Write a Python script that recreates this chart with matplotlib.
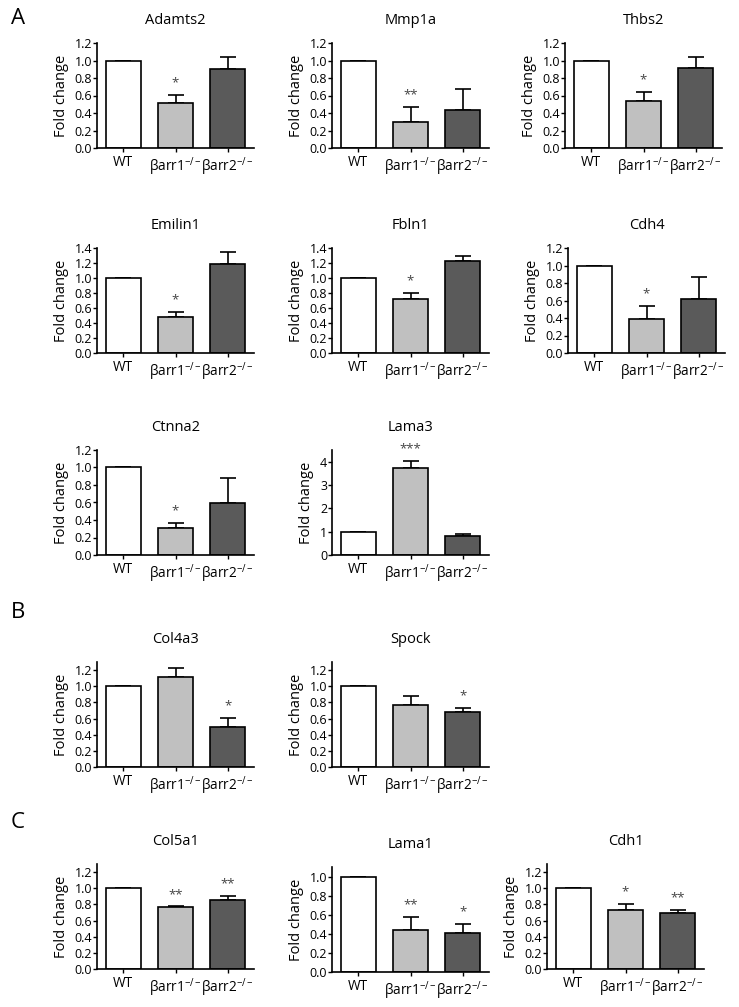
import matplotlib
matplotlib.use("Agg")
from matplotlib import pyplot as plt

plt.rcParams['font.family'] = ['Open Sans', 'DejaVu Sans']
plt.rcParams['mathtext.fontset'] = 'custom'
plt.rcParams['mathtext.rm'] = 'Open Sans'
plt.rcParams['mathtext.it'] = 'Open Sans'

groups = ['WT', r'βarr1$^{-/-}$', r'βarr2$^{-/-}$']
colors = ['#ffffff', '#c0c0c0', '#5a5a5a']

genes = ['Adamts2', 'Mmp1a', 'Thbs2', 'Emilin1', 'Fbln1', 'Cdh4', 'Ctnna2', 'Lama3',
         'Col4a3', 'Spock', 'Col5a1', 'Lama1', 'Cdh1']

means = {
    'Adamts2': [1.0, 0.52, 0.90],
    'Mmp1a': [1.0, 0.30, 0.44],
    'Thbs2': [1.0, 0.54, 0.91],
    'Emilin1': [1.0, 0.48, 1.19],
    'Fbln1': [1.0, 0.72, 1.23],
    'Cdh4': [1.0, 0.385, 0.62],
    'Ctnna2': [1.0, 0.31, 0.59],
    'Lama3': [1.0, 3.74, 0.83],
    'Col4a3': [1.0, 1.11, 0.49],
    'Spock': [1.0, 0.77, 0.68],
    'Col5a1': [1.0, 0.77, 0.86],
    'Lama1': [1.0, 0.44, 0.41],
    'Cdh1': [1.0, 0.735, 0.69],
}
errors = {
    'Adamts2': [0, 0.09, 0.14],
    'Mmp1a': [0, 0.17, 0.23],
    'Thbs2': [0, 0.10, 0.13],
    'Emilin1': [0, 0.07, 0.16],
    'Fbln1': [0, 0.08, 0.07],
    'Cdh4': [0, 0.155, 0.25],
    'Ctnna2': [0, 0.06, 0.29],
    'Lama3': [0, 0.29, 0.07],
    'Col4a3': [0, 0.11, 0.12],
    'Spock': [0, 0.105, 0.05],
    'Col5a1': [0, 0.005, 0.04],
    'Lama1': [0, 0.14, 0.09],
    'Cdh1': [0, 0.075, 0.04],
}
stars = {
    'Adamts2': ['', '*', ''],
    'Mmp1a': ['', '**', ''],
    'Thbs2': ['', '*', ''],
    'Emilin1': ['', '*', ''],
    'Fbln1': ['', '*', ''],
    'Cdh4': ['', '*', ''],
    'Ctnna2': ['', '*', ''],
    'Lama3': ['', '***', ''],
    'Col4a3': ['', '', '*'],
    'Spock': ['', '', '*'],
    'Col5a1': ['', '**', '**'],
    'Lama1': ['', '**', '*'],
    'Cdh1': ['', '*', '**'],
}
ylims = {
    'Adamts2': 1.2, 'Mmp1a': 1.2, 'Thbs2': 1.2,
    'Emilin1': 1.4, 'Fbln1': 1.4, 'Cdh4': 1.2,
    'Ctnna2': 1.2, 'Lama3': 4.5,
    'Col4a3': 1.3, 'Spock': 1.3,
    'Col5a1': 1.3, 'Lama1': 1.1, 'Cdh1': 1.3,
}
yticks = {
    'Lama3': [0, 1, 2, 3, 4],
    'Emilin1': [0, 0.2, 0.4, 0.6, 0.8, 1.0, 1.2, 1.4],
    'Fbln1': [0, 0.2, 0.4, 0.6, 0.8, 1.0, 1.2, 1.4],
    'Lama1': [0, 0.2, 0.4, 0.6, 0.8, 1.0],
}

W, H = 739, 1007
# axes placement in pixels: left, y of zero line
pos = {
    'Adamts2': (97, 148), 'Mmp1a': (332, 148), 'Thbs2': (565, 148),
    'Emilin1': (97, 353), 'Fbln1': (332, 353), 'Cdh4': (568, 353),
    'Ctnna2': (97, 555), 'Lama3': (332, 555),
    'Col4a3': (97, 767), 'Spock': (332, 767),
    'Col5a1': (97, 969), 'Lama1': (332, 972), 'Cdh1': (547, 969),
}

fig = plt.figure(figsize=(W / 100, H / 100), dpi=100)

for g in genes:
    left, zero = pos[g]
    ax = fig.add_axes([left / W, 1 - zero / H, 157 / W, 105 / H])
    x = range(3)
    ax.bar(x, means[g], width=0.67, color=colors, edgecolor='black', linewidth=1.2, zorder=2)
    ax.errorbar(x, means[g], yerr=[[0, 0, 0], errors[g]], fmt='none', ecolor='black',
                elinewidth=1.2, capsize=6, capthick=1.2, zorder=1)
    for i in range(3):
        if stars[g][i]:
            ax.annotate(stars[g][i], (i, means[g][i] + errors[g][i]), xytext=(0, 4),
                        textcoords='offset points', ha='center', va='bottom',
                        fontsize=9.5, color='#444444')
    ax.set_xlim(-0.5, 2.5)
    ax.set_ylim(0, ylims[g])
    if g in yticks:
        ax.set_yticks(yticks[g])
        if g == 'Lama3':
            ax.set_yticklabels([str(v) for v in yticks[g]])
        else:
            ax.set_yticklabels(['%.1f' % v for v in yticks[g]])
    else:
        t = [0, 0.2, 0.4, 0.6, 0.8, 1.0, 1.2]
        ax.set_yticks(t)
        ax.set_yticklabels(['%.1f' % v for v in t])
    ax.set_xticks(list(x))
    ax.set_xticklabels(groups, fontsize=9.8)
    ax.tick_params(axis='y', labelsize=9, length=3, width=1, pad=0.5)
    ax.tick_params(axis='x', length=3, width=1, pad=2)
    for s in ['top', 'right']:
        ax.spines[s].set_visible(False)
    for s in ['left', 'bottom']:
        ax.spines[s].set_linewidth(1.2)
    ax.set_ylabel('Fold change', fontsize=10.5, labelpad=4)
    ax.set_title(g, fontsize=10.5, pad=14)

fig.text(11 / W, 1 - 18 / H, 'A', fontsize=16, va='center', ha='left')
fig.text(11 / W, 1 - 612 / H, 'B', fontsize=16, va='center', ha='left')
fig.text(11 / W, 1 - 822 / H, 'C', fontsize=16, va='center', ha='left')

fig.savefig('out.png', dpi=100)
